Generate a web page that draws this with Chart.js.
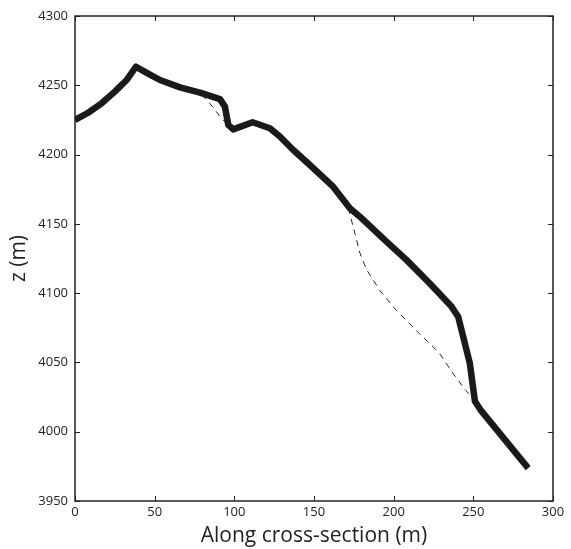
<!DOCTYPE html>
<html>
<head>
<meta charset="utf-8">
<title>Cross-section profile</title>
<script src="https://cdn.jsdelivr.net/npm/chart.js@4"></script>
<style>
  html, body { margin: 0; padding: 0; background: #ffffff; }
  #wrap { width: 571px; height: 549px; }
</style>
</head>
<body>
<div id="wrap"><canvas id="profileChart" width="571" height="549"></canvas></div>
<script>
// Surface profile (thick line)
const surfaceDist = [0, 8, 16.7, 25, 32.4, 38.3, 45, 53.3, 65.9, 78.4, 91, 94.1, 96.2, 99.3, 111.5, 122.3, 128.6, 137, 147.4, 162, 168, 172.5, 178.8, 195.5, 208, 222.7, 236.3, 240.5, 247.8, 251, 255, 284.4];
const surfaceZ    = [4225, 4230, 4237, 4245.4, 4253.8, 4263.4, 4259, 4253.8, 4248.5, 4244.7, 4240, 4234.6, 4221.4, 4218.2, 4223.3, 4219, 4213, 4203.3, 4192.5, 4176.8, 4168, 4161.3, 4155.2, 4137.2, 4124, 4107, 4090.3, 4083, 4049.4, 4022, 4015, 3973.7];

// Underlying profile (thin dashed line), runs under the thick one where they agree
const baseDist = [0, 8, 16.7, 25, 32.4, 38.3, 45, 53.3, 65.9, 78.4, 86, 92, 99.3, 111.5, 122.3, 128.6, 137, 147.4, 162, 168, 171.4, 175.7, 178.8, 183, 191.3, 201.3, 216, 228.5, 237.3, 245, 252, 255, 284.4];
const baseZ    = [4225, 4230, 4237, 4245.4, 4253.8, 4263.4, 4259, 4253.8, 4248.5, 4244.7, 4235, 4226, 4218.2, 4223.3, 4218, 4212, 4203.3, 4192.5, 4176.8, 4168, 4162, 4143, 4129, 4117, 4102, 4088, 4071, 4057, 4042, 4030, 4022, 4015, 3973.7];

const xTicks = [0, 50, 100, 150, 200, 250, 300];
const zTicks = [3950, 4000, 4050, 4100, 4150, 4200, 4250, 4300];

function toPoints(xs, ys) { return xs.map((x, i) => ({ x: x, y: ys[i] })); }

// box frame with inward ticks on all four sides
const frameTicks = {
  id: 'frameTicks',
  afterDraw(chart) {
    const { ctx, chartArea: a, scales } = chart;
    const len = 5;
    ctx.save();
    ctx.strokeStyle = '#222222';
    ctx.lineWidth = 1;
    ctx.beginPath();
    xTicks.forEach(v => {
      const px = Math.round(scales.x.getPixelForValue(v)) + 0.5;
      ctx.moveTo(px, a.bottom); ctx.lineTo(px, a.bottom - len);
      ctx.moveTo(px, a.top); ctx.lineTo(px, a.top + len);
    });
    zTicks.forEach(v => {
      const py = Math.round(scales.y.getPixelForValue(v)) + 0.5;
      ctx.moveTo(a.left, py); ctx.lineTo(a.left + len, py);
      ctx.moveTo(a.right, py); ctx.lineTo(a.right - len, py);
    });
    ctx.stroke();
    ctx.lineWidth = 1.5;
    ctx.strokeRect(a.left, a.top, a.right - a.left, a.bottom - a.top);
    ctx.restore();
  }
};

const tickFont = { family: "'Open Sans', 'Noto Sans', sans-serif", size: 13 };
const titleFont = { family: "'Open Sans', 'Noto Sans', sans-serif", size: 21 };

new Chart(document.getElementById('profileChart'), {
  type: 'scatter',
  data: {
    datasets: [
      {
        label: 'base',
        data: toPoints(baseDist, baseZ),
        showLine: true, borderColor: '#222222', borderWidth: 1, borderDash: [6, 5],
        pointRadius: 0, fill: false, order: 2
      },
      {
        label: 'surface',
        data: toPoints(surfaceDist, surfaceZ),
        showLine: true, borderColor: '#1a1a1a', borderWidth: 6.5,
        borderJoinStyle: 'round', borderCapStyle: 'butt',
        pointRadius: 0, fill: false, order: 1
      }
    ]
  },
  options: {
    responsive: false, animation: false,
    layout: { padding: { top: 16, right: 18, left: 0, bottom: 0 } },
    plugins: { legend: { display: false }, tooltip: { enabled: false } },
    scales: {
      x: {
        type: 'linear', min: 0, max: 300,
        afterBuildTicks: s => { s.ticks = xTicks.map(v => ({ value: v })); },
        afterFit: s => { s.height = 48; },
        ticks: { font: tickFont, color: '#222222', padding: 3, maxRotation: 0, callback: v => String(v) },
        grid: { display: false, drawTicks: false },
        border: { display: false },
        title: { display: true, text: 'Along cross-section (m)', font: titleFont, color: '#222222', padding: { top: 0, bottom: 0 } }
      },
      y: {
        type: 'linear', min: 3950, max: 4300,
        afterBuildTicks: s => { s.ticks = zTicks.map(v => ({ value: v })); },
        afterFit: s => { s.width = 75; },
        ticks: { font: tickFont, color: '#222222', padding: 7, callback: v => String(v) },
        grid: { display: false, drawTicks: false },
        border: { display: false },
        title: { display: true, text: 'z (m)', font: titleFont, color: '#222222', padding: { top: 6, bottom: 0 } }
      }
    }
  },
  plugins: [frameTicks]
});
</script>
</body>
</html>
